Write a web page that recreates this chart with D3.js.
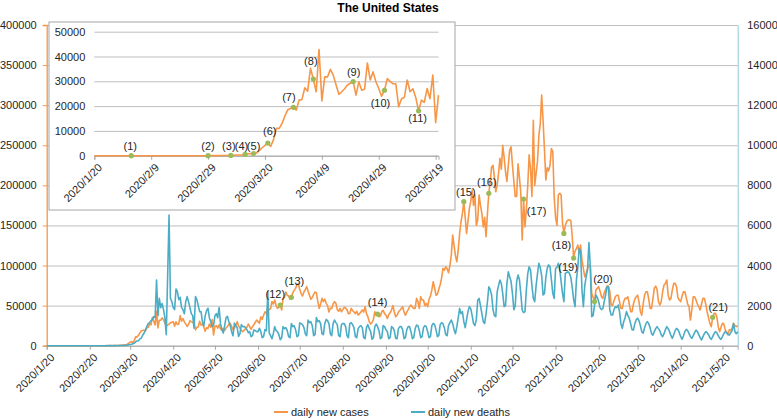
<!DOCTYPE html>
<html><head><meta charset="utf-8">
<script src="https://cdn.jsdelivr.net/npm/d3@7"></script>
<style>
body{margin:0;background:#fff}
svg{display:block}
text{font-family:"Liberation Sans",Arial,sans-serif;fill:#262626}
</style>
</head><body>
<svg id="chart" width="777" height="420"></svg>
<script>
// ---------------- DATA ----------------
const chartTitle = "The United States";
const firstDay = "2020/1/20";
const lastDay = "2021/5/31";
const insetLastDay = "2020/5/20";
const seriesNames = ["daily new cases", "daily new deaths"];

// daily new cases, one value per day from 2020/1/20
const dailyCases = [
0,1,0,0,1,0,0,0,0,0, 1,1,0,2,0,0,0,0,1,0, 0,0,0,0,1,0,0,0,0,0, 0,0,0,0,0,0,0,0,0,1,
7,16,12,22,34,74,105,95,121,200,271,287,351,511,777,823,887,1000,2000,3200,4200,
5100,3700,6500,11000,11000,13000,16000,18500,19000,19500,
18400,22400,22700,27400,26000,35200,30900,25800,42800,22100,
31800,31800,34800,32500,28500,24700,25800,27000,28500,29200,
29900,24400,29800,26400,26800,37400,30500,33800,29800,27100,
24000,26400,31100,30000,29000,29000,19700,23000,23500,30500,
25800,27000,23500,18100,22400,21500,27100,23000,32500,13300,
24400,
25000,22000,26000,21000,19500,21600,19000,22000,24000,26500,
28000,24000,20000,22000,25000,30000,24500,22000,19000,17500,
19000,21000,23000,27000,23700,20500,23700,26000,29000,32000,
30000,28000,36000,33000,38000,42400,40000,48600,45000,46000,
55000,52000,57000,50000,46500,48000,50700,44500,59000,60000,
67000,63000,62000,58000,60300,66000,69000,71500,75700,77700,
70000,65000,62000,67000,70000,73600,68000,63000,58000,60000,
64000,67000,66000,55000,46500,52000,59000,55000,58000,52800,
50000,42000,47000,46500,52000,55000,53000,45000,43000,46500,
42400,45000,48000,47000,45000,40000,40300,46500,44000,42000,
40000,43000,38200,40000,42000,44500,42000,48700,40000,36000,
30000,27000,29000,33000,42400,38000,39500,36000,37000,42400,
44000,40000,38000,34000,39000,41000,44500,50000,42000,36000,
38000,42000,44000,46500,48600,42000,38000,42000,45000,48600,
50700,48000,46500,46500,59000,55000,46500,61000,57000,57000,
50000,52800,48600,58000,62000,69400,79800,72000,63000,64000,
70000,76000,84000,96400,94000,98500,96000,91000,100000,113000,
138000,125000,112000,104700,120000,140000,154600,165000,179600,160000,
140000,155000,171000,180000,194000,175000,188000,150000,156700,188000,
175000,165000,148000,160000,136000,165000,190000,205000,223000,225000,
210000,192000,200000,215000,233600,220000,250000,235000,217000,205000,
225000,244000,248000,225000,205000,186000,186000,227000,210000,190000,
132000,183000,148000,170000,200000,238000,220000,186000,281000,200000,
215000,230000,262000,277000,312600,281000,245000,206600,222000,218000,
225000,246000,242000,186000,160000,150000,188000,190000,188000,152500,
140000,150000,155000,156700,157000,156000,135900,109300,118000,121000,
125500,115000,125500,106800,96400,86000,90000,96400,100600,98500,
65000,60000,55000,69400,71500,73600,68000,61000,59000,66000,
70000,74400,74400,68000,50600,50000,56000,61000,63000,63000,
55000,46500,46500,55000,59000,59000,61000,52000,42400,42400,
52000,58000,61000,63000,55000,42400,38000,52000,63000,67300,
67300,58000,46500,46500,58000,71500,74400,70000,55000,50700,
55000,67300,75600,77700,81900,63000,57000,59000,70000,77700,
77700,73600,60000,57000,55000,62000,67300,67300,60000,52000,
48600,32000,45000,61000,61000,57000,52000,48600,44500,52000,
59000,59000,52000,42400,35000,27900,23700,35400,40300,40300,
36000,23700,17500,23000,27900,27000,20000,17000,14600,20000,
19000,22000,27900,25000,23700,25000
];

// daily new deaths, one value per day from 2020/1/20
const dailyDeaths = [
0,0,0,0,0,0,0,0,0,0, 0,0,0,0,0,0,0,0,0,0, 0,0,0,0,0,0,0,0,0,0, 0,0,0,0,0,0,0,0,0,0,
1,0,1,4,1,2,2,1,3,4,5,8,10,8,12,10,24,25,30,50,60,
70,100,120,200,230,250,340,370,520,620,780,950,1100,1150,1250,1300,1450,
1400,3280,1500,2360,1900,2100,1800,1400,550,3500,
6520,2360,2200,1900,1800,2830,2700,2300,2415,1900,
1800,1600,2200,2450,2200,1900,1600,1500,870,2450,
2300,2000,1700,1700,1200,1000,1500,1750,1870,1400,
1200,960,1000,1500,1600,1400,1900,1100,800,630,
1000,1400,1460,1200,1000,700,500,1130,1000,900,
460,600,1050,950,960,900,800,650,700,450,
500,790,750,700,700,865,700,400,450,800,
750,2700,650,500,350,600,950,750,700,550,
300,400,950,850,900,750,450,400,1110,950,
1000,800,450,500,1140,1100,1050,900,600,500,
1280,1150,1200,1000,500,550,1410,1200,1250,1100,
600,550,1100,1310,1250,1100,600,500,1100,1280,
1150,1050,500,450,1050,1110,1100,950,500,400,
1100,1150,1050,900,450,400,850,950,1000,900,
400,350,900,1050,850,700,320,400,950,1080,
950,750,350,400,1000,950,800,700,350,400,
950,900,750,370,350,850,950,950,800,350,
400,800,950,950,700,350,400,850,1030,1000,
750,400,450,900,1000,950,700,400,450,1000,
1110,1050,800,450,500,1050,1150,1100,900,550,
500,1000,1150,1280,1100,800,600,950,1400,1860,
1600,1700,1200,900,1300,1700,1950,1850,1500,1100,
1000,1300,2270,2360,2000,1600,1200,1110,1600,2190,
2940,2800,2530,1800,1500,1450,2700,3000,3280,3100,
2600,1950,2000,3100,3690,3440,3200,2600,1800,2000,
3200,3530,3300,2600,1780,1650,1700,2800,3600,3940,
3770,3000,2360,2200,3000,3600,4110,3900,3500,2530,
2600,3400,3860,4030,3940,3300,2610,2360,3860,3900,
4110,3800,3200,2610,2200,3610,3650,3690,3600,3400,
2900,2300,1950,3280,3900,4860,4700,2780,1950,3000,
3440,3800,5150,3940,1450,1500,2000,2530,2400,2200,
1900,1800,1850,2200,2530,2940,2940,1780,1530,1530,
1800,1950,1900,2030,1700,1100,865,1200,1400,1700,
1500,1370,1100,800,780,1100,1300,1370,1250,1000,
700,620,900,1100,1200,1100,900,600,530,700,
850,950,850,750,550,450,600,800,950,850,
700,500,370,550,750,865,800,650,450,320,
500,700,815,750,600,450,370,500,650,780,
700,550,400,285,450,600,700,650,550,400,
320,450,600,700,650,500,380,320,450,600,
700,650,550,530,650,750,1110,700,600,700
];

const mainTickLabels = ["2020/1/20","2020/2/20","2020/3/20","2020/4/20","2020/5/20","2020/6/20",
  "2020/7/20","2020/8/20","2020/9/20","2020/10/20","2020/11/20","2020/12/20",
  "2021/1/20","2021/2/20","2021/3/20","2021/4/20","2021/5/20"];
const insetTickLabels = ["2020/1/20","2020/2/9","2020/2/29","2020/3/20","2020/4/9","2020/4/29","2020/5/19"];
const leftTicks = [0,50000,100000,150000,200000,250000,300000,350000,400000];
const rightTicks = [0,2000,4000,6000,8000,10000,12000,14000,16000];
const insetTicks = [0,10000,20000,30000,40000,50000];

// annotated days (on the cases line)
const insetMarkerDays = ["2020/2/2","2020/2/29","2020/3/8","2020/3/13","2020/3/16","2020/3/21","2020/3/30","2020/4/6","2020/4/20","2020/5/1","2020/5/13"];
const insetMarkerNames = ["(1)","(2)","(3)","(4)","(5)","(6)","(7)","(8)","(9)","(10)","(11)"];
const mainMarkerDays = ["2020/7/6","2020/7/14","2020/9/14","2020/11/15","2020/12/3","2020/12/28","2021/1/26","2021/2/2","2021/2/17","2021/5/13"];
const mainMarkerNames = ["(12)","(13)","(14)","(15)","(16)","(17)","(18)","(19)","(20)","(21)"];

// ---------------- LAYOUT / STYLE ----------------
const C_CASES = "#F79646", C_DEATHS = "#4BACC6", C_MARK = "#9BBB59", C_GRID = "#BEBEBE";
const plot = {l: 46.7, r: 737.7, t: 25, b: 345.7};
const inset = {x: 49, y: 22, w: 406, h: 188, l: 94.3, r: 438.5, t: 31.7, b: 155.7};
// label offsets (label centre relative to marker)
const insetLabelOffset = [[-1,-10],[0,-10],[-2,-9.5],[-3.5,-8.5],[0,-7.5],[2,-11.5],[-4.5,-10.5],[-2.5,-18],[0.5,-9],[-4,12.5],[-1,7]];
const mainLabelOffset = [[-5,-11],[3,-16.5],[0,-11.5],[2,-10],[-2,-11],[13,12.5],[-2.5,11.5],[-5.5,9.5],[8.5,-22],[5.5,-10.5]];

// ---------------- HELPERS ----------------
const parseDay = s => { const p = s.split("/").map(Number); return new Date(Date.UTC(p[0], p[1]-1, p[2])); };
const day0 = parseDay(firstDay);
const dayAt = i => new Date(day0.getTime() + i*86400000);
const idxOf = s => Math.round((parseDay(s) - day0)/86400000);

const svg = d3.select("#chart");

// ---------------- MAIN CHART ----------------
const x = d3.scaleUtc().domain([day0, parseDay(lastDay)]).range([plot.l, plot.r]);
const yL = d3.scaleLinear().domain([0, 400000]).range([plot.b, plot.t]);
const yR = d3.scaleLinear().domain([0, 16000]).range([plot.b, plot.t]);

svg.append("text").attr("x", 388).attr("y", 11.5).attr("text-anchor","middle")
  .style("font-size","12px").style("font-weight","bold").style("fill","#000").text(chartTitle);

// gridlines
const grid = svg.append("g").attr("transform", `translate(${plot.l},0)`)
  .call(d3.axisLeft(yL).tickValues(leftTicks).tickSize(-(plot.r-plot.l)).tickFormat(""));
grid.select(".domain").remove();
grid.selectAll("line").attr("stroke", C_GRID).attr("stroke-width",1);

// left axis
const gL = svg.append("g").attr("transform", `translate(${plot.l},0)`)
  .call(d3.axisLeft(yL).tickValues(leftTicks).tickSize(4).tickPadding(6).tickFormat(d3.format("d")));
gL.select(".domain").attr("stroke", C_CASES).attr("stroke-width",1.3);
gL.selectAll("line").attr("stroke", C_CASES);
gL.selectAll("text").style("font-size","11px").style("font-family",'"Liberation Sans",Arial,sans-serif').attr("fill","#262626");

// right axis
const gR = svg.append("g").attr("transform", `translate(${plot.r},0)`)
  .call(d3.axisRight(yR).tickValues(rightTicks).tickSize(0).tickPadding(9.5).tickFormat(d3.format("d")));
gR.select(".domain").attr("stroke", "#9DD3E2").attr("stroke-width",1.2);
gR.selectAll("text").style("font-size","11px").style("font-family",'"Liberation Sans",Arial,sans-serif').attr("fill","#262626");

// bottom axis
const mainTickDates = mainTickLabels.map(parseDay);
const gB = svg.append("g").attr("transform", `translate(0,${plot.b})`)
  .call(d3.axisBottom(x).tickValues(mainTickDates).tickSize(4).tickFormat(""));
gB.select(".domain").attr("stroke", "#A6A6A6");
gB.selectAll("line").attr("stroke", "#A6A6A6");
svg.append("g").selectAll("text").data(mainTickLabels).join("text")
  .attr("transform", d => `translate(${x(parseDay(d))+3},${plot.b+7}) rotate(-45)`)
  .attr("text-anchor","end").attr("dy","0.71em")
  .style("font-size","11px").text(d => d);

// lines
const casesPts = dailyCases.map((v,i) => [dayAt(i), v]);
const deathsPts = dailyDeaths.map((v,i) => [dayAt(i), v]);
svg.append("path").datum(casesPts)
  .attr("fill","none").attr("stroke",C_CASES).attr("stroke-width",1.6).attr("stroke-linejoin","round")
  .attr("d", d3.line().x(d => x(d[0])).y(d => yL(d[1])));
svg.append("path").datum(deathsPts)
  .attr("fill","none").attr("stroke",C_DEATHS).attr("stroke-width",1.6).attr("stroke-linejoin","round")
  .attr("d", d3.line().x(d => x(d[0])).y(d => yR(d[1])));

// main markers
const mainMarks = mainMarkerDays.map((s,k) => ({i: idxOf(s), name: mainMarkerNames[k], off: mainLabelOffset[k]}));
svg.append("g").selectAll("circle").data(mainMarks).join("circle")
  .attr("cx", d => x(dayAt(d.i))).attr("cy", d => yL(dailyCases[d.i])).attr("r", 2.6).attr("fill", C_MARK);
svg.append("g").selectAll("text").data(mainMarks).join("text")
  .attr("x", d => x(dayAt(d.i)) + d.off[0]).attr("y", d => yL(dailyCases[d.i]) + d.off[1])
  .attr("text-anchor","middle").attr("dy","0.35em").style("font-size","11px").text(d => d.name);

// legend
const leg = svg.append("g");
[[274, 288, 291, C_CASES, seriesNames[0]], [411, 425, 428, C_DEATHS, seriesNames[1]]].forEach(l => {
  leg.append("line").attr("x1", l[0]).attr("x2", l[1]).attr("y1", 412).attr("y2", 412)
    .attr("stroke", l[3]).attr("stroke-width", 2);
  leg.append("text").attr("x", l[2]).attr("y", 412).attr("dy","0.35em").style("font-size","11px").text(l[4]);
});

// ---------------- INSET ----------------
const ix = d3.scaleUtc().domain([day0, parseDay(insetLastDay)]).range([inset.l, inset.r]);
const iy = d3.scaleLinear().domain([0, 50000]).range([inset.b, inset.t]);
const nInset = idxOf(insetLastDay) + 1;
const ig = svg.append("g");
ig.append("rect").attr("x", inset.x).attr("y", inset.y).attr("width", inset.w).attr("height", inset.h)
  .attr("fill","#fff").attr("stroke","#A6A6A6").attr("stroke-width",1);

const igrid = ig.append("g").attr("transform", `translate(${inset.l},0)`)
  .call(d3.axisLeft(iy).tickValues(insetTicks).tickSize(-(inset.r-inset.l)).tickPadding(9).tickFormat(d3.format("d")));
igrid.select(".domain").remove();
igrid.selectAll("line").attr("stroke", C_GRID);
igrid.selectAll("text").style("font-size","11px").style("font-family",'"Liberation Sans",Arial,sans-serif').attr("fill","#262626");

const insetTickDates = insetTickLabels.map(parseDay);
const iB = ig.append("g").attr("transform", `translate(0,${inset.b})`)
  .call(d3.axisBottom(ix).tickValues(insetTickDates).tickSize(4).tickFormat(""));
iB.select(".domain").attr("stroke", "#A6A6A6");
iB.selectAll("line").attr("stroke", "#A6A6A6");
ig.append("g").selectAll("text").data(insetTickLabels).join("text")
  .attr("transform", d => `translate(${ix(parseDay(d))+3},${inset.b+7}) rotate(-45)`)
  .attr("text-anchor","end").attr("dy","0.71em")
  .style("font-size","11px").text(d => d);

ig.append("path").datum(casesPts.slice(0, nInset))
  .attr("fill","none").attr("stroke",C_CASES).attr("stroke-width",1.6).attr("stroke-linejoin","round")
  .attr("d", d3.line().x(d => ix(d[0])).y(d => iy(d[1])));

const insetMarks = insetMarkerDays.map((s,k) => ({i: idxOf(s), name: insetMarkerNames[k], off: insetLabelOffset[k]}));
ig.append("g").selectAll("circle").data(insetMarks).join("circle")
  .attr("cx", d => ix(dayAt(d.i))).attr("cy", d => iy(dailyCases[d.i])).attr("r", 2.6).attr("fill", C_MARK);
ig.append("g").selectAll("text").data(insetMarks).join("text")
  .attr("x", d => ix(dayAt(d.i)) + d.off[0]).attr("y", d => iy(dailyCases[d.i]) + d.off[1])
  .attr("text-anchor","middle").attr("dy","0.35em").style("font-size","11px").text(d => d.name);
</script>
</body></html>
